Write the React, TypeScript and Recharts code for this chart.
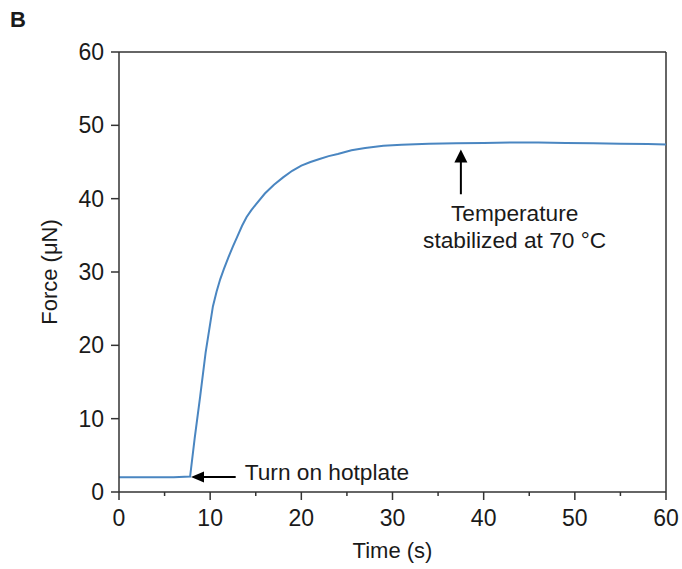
import React from 'react';
import { LineChart, Line, XAxis, YAxis, ReferenceLine, ReferenceDot, Label } from 'recharts';

// Force trace (time in s, force in µN)
const times = [0, 2, 4, 6, 7.8, 8.3, 8.9, 9.5, 10.3, 10.7, 11.1, 11.5, 12, 12.5, 13, 13.5, 14, 14.5, 15, 16, 17, 18, 19, 20, 21, 22, 23, 24, 25.5, 27, 29, 31, 34, 37, 40, 43, 46, 49, 52, 55, 58, 60];
const forces = [2, 2, 2, 2, 2.1, 7.3, 13, 19, 25.3, 27.3, 29, 30.4, 32, 33.5, 34.9, 36.3, 37.5, 38.4, 39.2, 40.7, 41.9, 42.9, 43.8, 44.5, 45.0, 45.4, 45.8, 46.1, 46.6, 46.9, 47.2, 47.35, 47.5, 47.55, 47.6, 47.65, 47.65, 47.6, 47.55, 47.5, 47.45, 47.4];

const xTicks = [0, 5, 10, 15, 20, 25, 30, 35, 40, 45, 50, 55, 60];
const yTicks = [0, 10, 20, 30, 40, 50, 60];

// annotations (data coords)
const hotplateArrow = [{ x: 12.8, y: 2.05 }, { x: 7.9, y: 2.05 }];
const hotplateText = 'Turn on hotplate';
const stableArrow = [{ x: 37.5, y: 40.6 }, { x: 37.5, y: 46.7 }];
const stableTextPos = { x: 43.4, y: 36.9 };
const stableText = ['Temperature', 'stabilized at 70 °C'];

const data = times.map((t, i) => ({ time: t, force: forces[i] }));

const FONT = '"Liberation Sans", Arial, Helvetica, sans-serif';
const AXIS = '#333333';
const INK = '#1a1a1a';
const LINE = '#4a86c1';
const X_TICK_SIZE = 8;
const X_TICK_MARGIN = 10;

const XTick = (props: any) => {
  const { x, y, payload } = props;
  const major = payload.value % 10 === 0;
  const axisY = y - X_TICK_MARGIN - X_TICK_SIZE;
  return (
    <g>
      <line x1={x} x2={x} y1={axisY} y2={axisY + (major ? X_TICK_SIZE : 4)} stroke={AXIS} strokeWidth={1.5} />
      {major && (
        <text x={x} y={y} dy="0.71em" textAnchor="middle" fontSize={23} fill={INK} fontFamily={FONT}>
          {payload.value}
        </text>
      )}
    </g>
  );
};

const HotplateArrow = (p: any) => {
  const { x1, y1, x2, y2 } = p;
  return (
    <g>
      <line x1={x1} y1={y1} x2={x2 + 12} y2={y2} stroke="#000" strokeWidth={2} />
      <polygon points={`${x2},${y2} ${x2 + 13},${y2 - 5.5} ${x2 + 13},${y2 + 5.5}`} fill="#000" />
      <text x={x1 + 9} y={y1 + 3.5} fontSize={22.7} fill={INK} fontFamily={FONT}>{hotplateText}</text>
    </g>
  );
};

const StableArrow = (p: any) => {
  const { x1, y1, x2, y2 } = p;
  return (
    <g>
      <line x1={x1} y1={y1} x2={x2} y2={y2 + 12} stroke="#000" strokeWidth={2} />
      <polygon points={`${x2},${y2} ${x2 - 6.5},${y2 + 13} ${x2 + 6.5},${y2 + 13}`} fill="#000" />
    </g>
  );
};

const StableText = (p: any) => (
  <text x={p.cx} y={p.cy} textAnchor="middle" fontSize={22.7} fill={INK} fontFamily={FONT}>
    <tspan x={p.cx} dy={0}>{stableText[0]}</tspan>
    <tspan x={p.cx} dy={26.7}>{stableText[1]}</tspan>
  </text>
);

export default function App() {
  return (
    <div style={{ position: 'absolute', left: 0, top: 0, width: 682, height: 569, background: '#fff' }}>
      <div style={{ position: 'absolute', left: 10, top: 9, fontFamily: FONT, fontWeight: 'bold', fontSize: 22, lineHeight: '22px', color: INK }}>B</div>
      <LineChart width={682} height={569} data={data} margin={{ top: 52, right: 16, bottom: 11, left: 39 }}>
        <XAxis
          dataKey="time"
          type="number"
          domain={[0, 60]}
          ticks={xTicks}
          interval={0}
          height={66}
          tickSize={X_TICK_SIZE}
          tickMargin={X_TICK_MARGIN}
          tickLine={false}
          tick={<XTick />}
          axisLine={{ stroke: AXIS, strokeWidth: 1.5 }}
        >
          <Label value="Time (s)" position="insideBottom" offset={0} style={{ fontSize: 22, fill: INK, fontFamily: FONT }} />
        </XAxis>
        <YAxis
          type="number"
          domain={[0, 60]}
          ticks={yTicks}
          interval={0}
          width={80}
          tickSize={8}
          tickMargin={7}
          tick={{ fontSize: 23, fill: INK, fontFamily: FONT }}
          tickLine={{ stroke: AXIS, strokeWidth: 1.5 }}
          axisLine={{ stroke: AXIS, strokeWidth: 1.5 }}
        >
          <Label value="Force (μN)" angle={-90} position="insideLeft" offset={10} style={{ fontSize: 22, fill: INK, fontFamily: FONT, textAnchor: 'middle' }} />
        </YAxis>
        <ReferenceLine y={60} stroke={AXIS} strokeWidth={1.5} />
        <ReferenceLine x={60} stroke={AXIS} strokeWidth={1.5} />
        <Line
          type="linear"
          dataKey="force"
          stroke={LINE}
          strokeWidth={2}
          dot={false}
          isAnimationActive={false}
        />
        <ReferenceLine segment={hotplateArrow} shape={<HotplateArrow />} />
        <ReferenceLine segment={stableArrow} shape={<StableArrow />} />
        <ReferenceDot x={stableTextPos.x} y={stableTextPos.y} r={2} shape={<StableText />} />
      </LineChart>
    </div>
  );
}
